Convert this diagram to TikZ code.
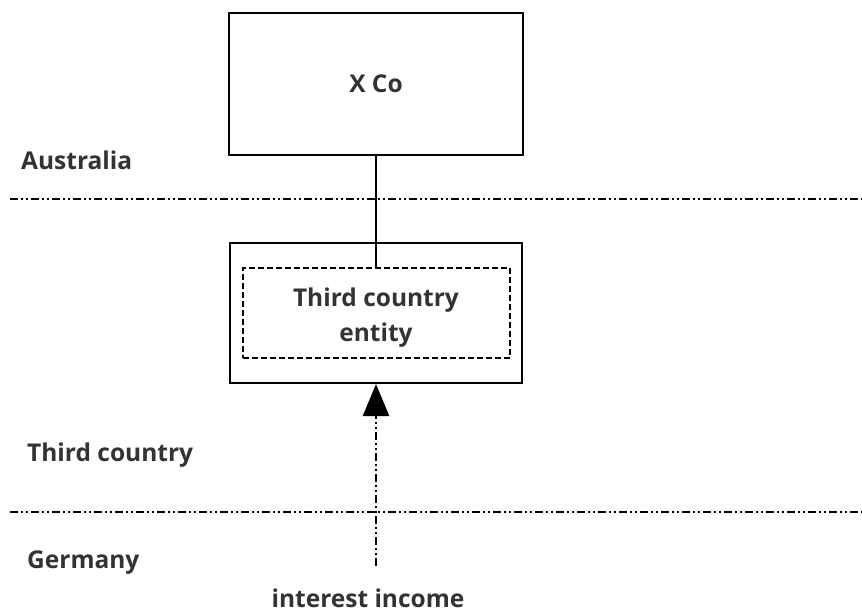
\documentclass[tikz,border=0pt]{standalone}
\usepackage{fontspec}
\setmainfont{Open Sans}
\usetikzlibrary{arrows.meta,positioning}
\definecolor{txtgray}{HTML}{333333}

\begin{document}
\begin{tikzpicture}[x=1pt,y=-1pt,% styles for the whole picture
			every node/.style={
				align=center,		% so that "\\" breaks lines
				font=\bfseries\fontsize{24.5}{34}\selectfont,
				text=txtgray
			},
			box/.style={draw,line width=2pt,inner sep=0pt},
			border/.style={line width=2.4pt,dash pattern=on 8pt off 3pt on 2pt off 3pt on 2pt off 3pt}
		]
		\useasboundingbox (0,0) rectangle (862,613);
		\node[box,minimum width=294,minimum height=142](XCo) at (376,84) {X Co};
		\node[box,minimum width=292,minimum height=140](Outer) at (376,313) {};
		\node[draw,line width=1.8pt,dash pattern=on 6pt off 3pt,minimum width=267,minimum height=90,inner sep=0pt](Entity) at (376.5,313) {};
		\node[inner sep=0pt](EntityText) at (376,318) {Third country\\[1pt]entity};
		\node[anchor=west,inner sep=0pt](AU) at (21,160) {Australia};
		\node[anchor=west,inner sep=0pt](TC) at (27,455) {Third country};
		\node[anchor=west,inner sep=0pt](DE) at (27,563) {Germany};
		\node[inner sep=0pt](Income) at (368,598) {interest income};
		\coordinate (b1l) at (10,199);
		\coordinate (b1r) at (862,199);
		\coordinate (b2l) at (10,512);
		\coordinate (b2r) at (862,512);
		\coordinate (src) at (376,566);
		% borders between countries
		\draw[border] (b1l) -- (b1r);
		\draw[border] (b2l) -- (b2r);
		% ownership and income flow
		\draw[line width=2pt] (XCo.south) -- (Entity.north -| XCo.south);
		\draw[border,-{Triangle[length=32pt,width=26pt]}] (src) -- (Outer.south);
	\end{tikzpicture}
\end{document}
